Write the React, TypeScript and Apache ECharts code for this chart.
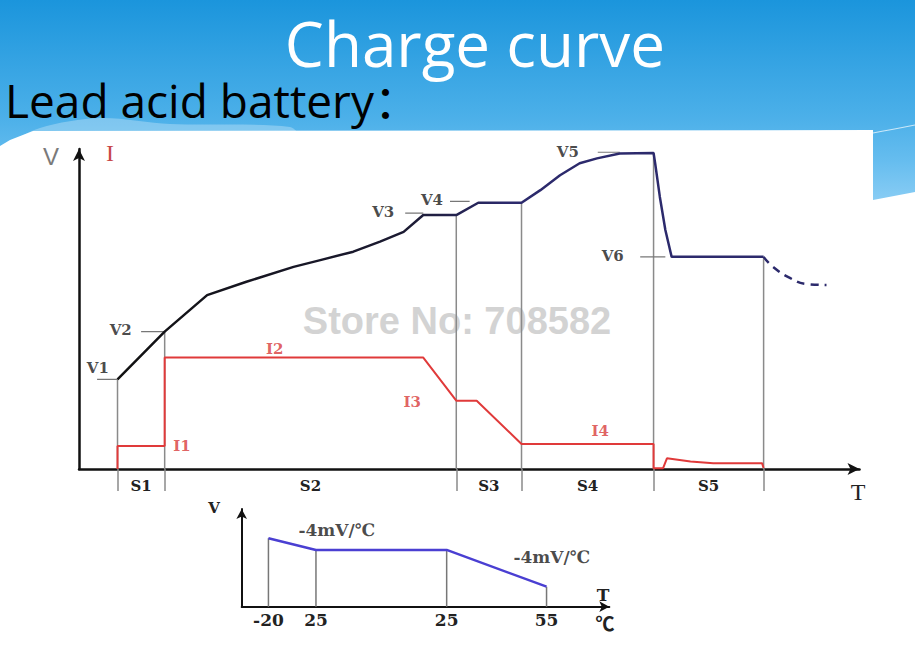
import React, { useEffect, useRef } from "react";
import * as echarts from "echarts";

// ---------- main chart (time axis 0..100, level axis 0..100) ----------
const phaseBounds = [4.9, 10.9, 48.0, 56.3, 73.1, 87.1];
const phaseTops = [27.7, 42.4, 78.4, 82.2, 97.6, 65.5];
const phaseLabels = ["S1", "S2", "S3", "S4", "S5"];

const voltageX = [4.9, 10.9, 16.3, 21.3, 27.3, 30.7, 34.9, 38.3, 41.3, 43.8, 48.0, 50.8, 56.3, 58.7, 61.2, 63.7, 65.9, 68.8, 73.1, 73.3, 73.9, 74.6, 75.4, 87.1];
const voltageY = [27.7, 42.4, 53.7, 57.8, 62.4, 64.5, 67.1, 70.2, 73.2, 78.4, 78.4, 82.2, 82.2, 86.1, 90.7, 94.4, 95.9, 97.4, 97.6, 94.4, 84.0, 73.8, 65.5, 65.5];
const floatX = [87.1, 88.3, 90.5, 92.6, 95.1];
const floatY = [65.5, 62.4, 58.9, 57.1, 56.8];

const currentX = [4.9, 4.9, 10.9, 10.9, 43.8, 48.0, 50.6, 56.3, 73.1, 73.1, 74.3, 74.8, 77.8, 80.7, 86.9, 87.1];
const currentY = [0, 7.1, 7.1, 34.4, 34.4, 21.1, 21.1, 7.7, 7.7, 0.2, 0.2, 3.3, 2.3, 1.8, 1.8, 0.3];

const levelNames = ["V1", "V2", "V3", "V4", "V5", "V6"];
const levelValues = [27.7, 42.4, 79.0, 82.6, 97.8, 65.5];
const levelTickFrom = [2.3, 7.9, 41.5, 47.2, 66.0, 71.4];
const levelTickTo = [4.9, 10.9, 43.8, 49.7, 68.8, 74.6];

const currentNames = ["I1", "I2", "I3", "I4"];
const currentLevels = [7.1, 34.4, 21.1, 7.7];

// ---------- temperature compensation inset ----------
const tempX = [7.2, 20.0, 55.2, 82.1];
const tempV = [67.3, 55.8, 55.8, 19.7];
const tempLabels = ["-20", "25", "25", "55"];
const slopeText = "-4mV/℃";

const SERIF = "'DejaVu Serif', 'Liberation Serif', serif";

function pts(xs: number[], ys: number[]) {
  return xs.map((x, i) => [x, ys[i]]);
}

export default function App() {
  const ref = useRef<HTMLDivElement>(null);

  useEffect(() => {
    if (!ref.current) return;
    const chart = echarts.init(ref.current, undefined, { renderer: "svg" });
    const phaseMid = phaseLabels.map((_, i) => (phaseBounds[i] + phaseBounds[i + 1]) / 2);

    const separatorSeries = phaseBounds.map((b, i) => ({
      type: "line",
      xAxisIndex: 0,
      yAxisIndex: 0,
      data: [[b, 0], [b, phaseTops[i]]],
      showSymbol: false,
      silent: true,
      z: 1,
      lineStyle: { color: "#8a8a8a", width: 1.5 },
    }));

    const levelTickSeries = levelNames.map((_, i) => ({
      type: "line",
      xAxisIndex: 0,
      yAxisIndex: 0,
      data: [[levelTickFrom[i], levelValues[i]], [levelTickTo[i], levelValues[i]]],
      showSymbol: false,
      silent: true,
      z: 1,
      lineStyle: { color: "#777", width: 1.2 },
    }));

    const tempSepSeries = tempX.map((x, i) => ({
      type: "line",
      xAxisIndex: 1,
      yAxisIndex: 1,
      data: [[x, 0], [x, tempV[i]]],
      showSymbol: false,
      silent: true,
      z: 1,
      lineStyle: { color: "#777", width: 1.5 },
    }));

    const labelStyle = {
      show: true,
      position: "inside",
      formatter: "{b}",
      fontFamily: SERIF,
      fontWeight: "bold",
      fontSize: 15,
      color: "#1a1a1a",
    };

    const levelLabelPos = [
      [2.4, 31.2],
      [5.3, 43.0],
      [38.7, 79.2],
      [44.9, 82.9],
      [62.2, 97.8],
      [67.9, 65.7],
    ];

    const option: any = {
      animation: false,
      backgroundColor: "#ffffff",
      grid: [
        { left: 79, top: 149, width: 780.5, height: 320 },
        { left: 241.7, top: 509, width: 367.6, height: 97.7 },
      ],
      xAxis: [
        {
          gridIndex: 0,
          type: "value",
          min: 0,
          max: 99.3,
          splitLine: { show: false },
          axisLine: {
            show: true,
            onZero: false,
            symbol: ["none", "arrow"],
            symbolSize: [9, 12],
            lineStyle: { color: "#111", width: 2.5 },
          },
          axisTick: {
            show: true,
            customValues: phaseBounds,
            length: 22,
            inside: false,
            lineStyle: { color: "#8a8a8a", width: 1.5 },
          },
          axisLabel: {
            show: true,
            customValues: phaseMid,
            formatter: (v: number) => {
              const k = phaseMid.findIndex((m) => Math.abs(m - v) < 0.01);
              return k >= 0 ? phaseLabels[k] : "";
            },
            margin: 9,
            fontFamily: SERIF,
            fontWeight: "bold",
            fontSize: 15,
            color: "#222",
          },
        },
        {
          gridIndex: 1,
          type: "value",
          min: 0,
          max: 99,
          splitLine: { show: false },
          axisLine: {
            show: true,
            onZero: false,
            symbol: ["none", "arrow"],
            symbolSize: [8, 10],
            lineStyle: { color: "#111", width: 2 },
          },
          axisTick: { show: false },
          axisLabel: {
            show: true,
            customValues: tempX,
            formatter: (v: number) => {
              const k = tempX.findIndex((m) => Math.abs(m - v) < 0.01);
              return k >= 0 ? tempLabels[k] : "";
            },
            margin: 5,
            fontFamily: SERIF,
            fontWeight: "bold",
            fontSize: 17,
            color: "#222",
          },
        },
      ],
      yAxis: [
        {
          gridIndex: 0,
          type: "value",
          min: 0,
          max: 98.8,
          splitLine: { show: false },
          axisTick: { show: false },
          axisLabel: { show: false },
          axisLine: {
            show: true,
            onZero: false,
            symbol: ["none", "arrow"],
            symbolSize: [9, 12],
            lineStyle: { color: "#111", width: 2.5 },
          },
        },
        {
          gridIndex: 1,
          type: "value",
          min: 0,
          max: 96,
          splitLine: { show: false },
          axisTick: { show: false },
          axisLabel: { show: false },
          axisLine: {
            show: true,
            onZero: false,
            symbol: ["none", "arrow"],
            symbolSize: [8, 10],
            lineStyle: { color: "#111", width: 2 },
          },
        },
      ],
      graphic: [
        {
          type: "rect",
          z: -20,
          silent: true,
          shape: { x: 0, y: 0, width: 915, height: 215 },
          style: {
            fill: new echarts.graphic.LinearGradient(0, 0, 0, 1, [
              { offset: 0, color: "#1b95dc" },
              { offset: 0.55, color: "#4cb0e9" },
              { offset: 0.75, color: "#66bdef" },
              { offset: 1, color: "#95d2f6" },
            ]),
          },
        },
        {
          type: "polygon",
          z: -19,
          silent: true,
          shape: {
            points: [
              [0, 150], [40, 128], [100, 118], [170, 124], [290, 127], [300, 140], [0, 160],
            ],
            smooth: 0.3,
          },
          style: { fill: "rgba(255,255,255,0.28)" },
        },
        {
          type: "polygon",
          z: -18,
          silent: true,
          shape: {
            points: [
              [0, 146], [10, 140], [33, 131], [873, 130], [873, 200], [915, 192], [915, 670], [0, 670],
            ],
          },
          style: { fill: "#ffffff" },
        },
        {
          type: "bezierCurve",
          z: -17,
          silent: true,
          shape: { x1: 873, y1: 133, x2: 915, y2: 125, cpx1: 890, cpy1: 130, cpx2: 905, cpy2: 127 },
          style: { stroke: "rgba(255,255,255,0.7)", lineWidth: 1.2, fill: "none" },
        },
        {
          type: "text",
          z: 5,
          silent: true,
          style: {
            text: "Charge curve",
            x: 475,
            y: 43,
            align: "center",
            verticalAlign: "middle",
            fill: "#ffffff",
            font: "62px 'Open Sans', 'Noto Sans', sans-serif",
          },
        },
        {
          type: "text",
          z: 5,
          silent: true,
          style: {
            text: "Lead acid battery：",
            x: 5,
            y: 100,
            align: "left",
            verticalAlign: "middle",
            fill: "#000000",
            font: "46px 'Open Sans', 'Noto Sans', 'Noto Sans CJK SC', sans-serif",
          },
        },
        {
          type: "text",
          z: 5,
          silent: true,
          style: {
            text: "V",
            x: 51,
            y: 156,
            align: "center",
            verticalAlign: "middle",
            fill: "#7a7a7a",
            font: "24px 'Liberation Sans', sans-serif",
          },
        },
        {
          type: "text",
          z: 5,
          silent: true,
          style: {
            text: "I",
            x: 110,
            y: 153,
            align: "center",
            verticalAlign: "middle",
            fill: "#c84848",
            font: "24px 'Liberation Serif', serif",
          },
        },
        {
          type: "text",
          z: 5,
          silent: true,
          style: {
            text: "T",
            x: 858,
            y: 492,
            align: "center",
            verticalAlign: "middle",
            fill: "#222",
            font: "24px 'Liberation Serif', serif",
          },
        },
        {
          type: "text",
          z: 0,
          silent: true,
          style: {
            text: "Store No: 708582",
            x: 457,
            y: 321,
            align: "center",
            verticalAlign: "middle",
            fill: "#d3d3d3",
            font: "bold 38px 'Liberation Sans', Arial, sans-serif",
          },
        },
        {
          type: "text",
          z: 5,
          silent: true,
          style: {
            text: "V",
            x: 214,
            y: 508,
            align: "center",
            verticalAlign: "middle",
            fill: "#222",
            font: "bold 15px " + SERIF,
          },
        },
        {
          type: "text",
          z: 5,
          silent: true,
          style: {
            text: "T",
            x: 603,
            y: 595,
            align: "center",
            verticalAlign: "middle",
            fill: "#222",
            font: "bold 17px " + SERIF,
          },
        },
        {
          type: "text",
          z: 5,
          silent: true,
          style: {
            text: "℃",
            x: 605,
            y: 622,
            align: "center",
            verticalAlign: "middle",
            fill: "#222",
            font: "bold 19px 'Noto Sans CJK SC', sans-serif",
          },
        },
      ],
      series: [
        ...separatorSeries,
        ...levelTickSeries,
        {
          type: "line",
          name: "Voltage",
          xAxisIndex: 0,
          yAxisIndex: 0,
          data: pts(voltageX, voltageY),
          showSymbol: false,
          z: 3,
          lineStyle: {
            width: 2.5,
            color: new echarts.graphic.LinearGradient(0, 0, 1, 0, [
              { offset: 0, color: "#111111" },
              { offset: 0.45, color: "#1c1b33" },
              { offset: 0.6, color: "#2c2a6c" },
              { offset: 1, color: "#2c2a6c" },
            ]),
          },
        },
        {
          type: "line",
          name: "Float",
          xAxisIndex: 0,
          yAxisIndex: 0,
          data: pts(floatX, floatY),
          showSymbol: false,
          smooth: true,
          z: 3,
          lineStyle: { width: 2.5, color: "#2c2a6c", type: [8, 6] },
        },
        {
          type: "line",
          name: "Current",
          xAxisIndex: 0,
          yAxisIndex: 0,
          data: pts(currentX, currentY),
          showSymbol: false,
          z: 4,
          lineStyle: { width: 2, color: "#e03a3a" },
        },
        {
          type: "scatter",
          xAxisIndex: 0,
          yAxisIndex: 0,
          symbolSize: 0,
          silent: true,
          z: 5,
          label: labelStyle,
          data: levelNames.map((n, i) => ({ name: n, value: levelLabelPos[i] })),
        },
        {
          type: "scatter",
          xAxisIndex: 0,
          yAxisIndex: 0,
          symbolSize: 0,
          silent: true,
          z: 5,
          label: { ...labelStyle, color: "#d83a3a" },
          data: [
            { name: currentNames[0], value: [13.1, currentLevels[0]] },
            { name: currentNames[1], value: [24.9, currentLevels[1] + 2.6] },
            { name: currentNames[2], value: [42.4, currentLevels[2] - 0.4] },
            { name: currentNames[3], value: [66.3, currentLevels[3] + 4.0] },
          ],
        },
        {
          type: "line",
          name: "Compensation",
          xAxisIndex: 1,
          yAxisIndex: 1,
          data: pts(tempX, tempV),
          showSymbol: false,
          z: 3,
          lineStyle: { width: 2.5, color: "#4a3fd2" },
        },
        ...tempSepSeries,
        {
          type: "scatter",
          xAxisIndex: 1,
          yAxisIndex: 1,
          symbolSize: 0,
          silent: true,
          z: 5,
          label: { ...labelStyle, fontSize: 17 },
          data: [
            { name: slopeText, value: [25.6, 75.4] },
            { name: slopeText, value: [83.5, 49.2] },
          ],
        },
      ],
    };

    chart.setOption(option);
    return () => chart.dispose();
  }, []);

  return (
    <div
      ref={ref}
      style={{ position: "fixed", left: 0, top: 0, width: 915, height: 670, background: "#fff" }}
    />
  );
}
